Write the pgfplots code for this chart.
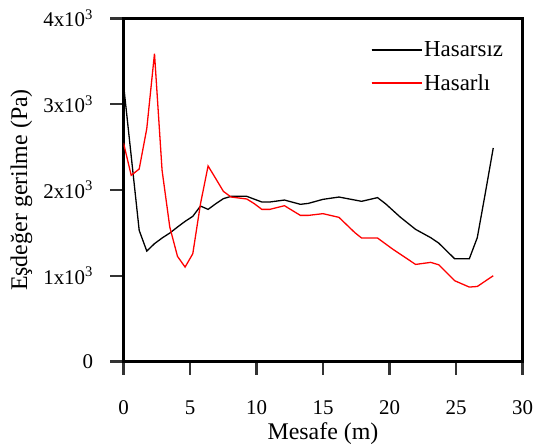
\documentclass[border=0pt]{standalone}
\usepackage{pgfplots}
\pgfplotsset{compat=1.18}
\usepackage{fontspec}
\setmainfont{Liberation Serif}
\begin{document}
\begin{tikzpicture}
\useasboundingbox (0,0) rectangle (536bp,447bp);
\begin{axis}[
  at={(123.5bp,85.5bp)}, anchor=south west,
  scale only axis, width=399bp, height=343bp,
  xmin=0, xmax=30, ymin=0, ymax=4000,
  xtick={0,5,...,30}, ytick={0,1000,2000,3000,4000},
  yticklabels={0,1x10\textsuperscript{3},2x10\textsuperscript{3},3x10\textsuperscript{3},4x10\textsuperscript{3}},
  scaled y ticks=false,
  tick align=outside,
  xtick pos=bottom, ytick pos=left,
  major tick length=13bp,
  axis line style={line width=2.2bp, black},
  major tick style={line width=2.2bp, black!80},
  every axis plot/.append style={line width=1.3bp},
  /pgf/number format/assume math mode=true,
  ticklabel style={font=\fontsize{21}{24}\selectfont},
  xticklabel style={yshift=-23bp},
  yticklabel style={xshift=-14bp},
  title={(a)},
  title style={at={(axis description cs:0.361,1.06)}, anchor=base, font=\fontsize{24}{26}\selectfont},
  xlabel={Mesafe (m)}, ylabel={Eşdeğer gerilme (Pa)},
  every axis x label/.style={at={(axis description cs:0.5,-0.21)}, anchor=center, font=\fontsize{24}{26}\selectfont},
  every axis y label/.style={at={(axis description cs:-0.256,0.5)}, anchor=center, rotate=90, font=\fontsize{24}{26}\selectfont},
  legend style={draw=none, fill=none, at={(0.612,0.944)}, anchor=north west,
    font=\fontsize{23}{25}\selectfont, row sep=12bp},
  legend cell align=left,
  legend image code/.code={\draw[#1] (0bp,0bp) -- (31bp,0bp); \path (0bp,0bp) -- (50bp,0bp);},
]
\addplot[black] coordinates {
(0,3233) (1.18,1529) (1.75,1288) (2.33,1374) (2.9,1440) (3.48,1498) (4.06,1568)
(4.63,1634) (5.21,1693) (5.79,1813) (6.36,1774) (6.94,1840) (7.51,1899) (8.09,1926)
(9.27,1926) (10.4,1860) (11.0,1860) (12.1,1883) (13.3,1833) (13.9,1844) (15.0,1891)
(16.2,1918) (17.9,1868) (19.1,1911) (19.7,1840) (20.8,1685) (21.96,1541) (23.1,1444)
(23.7,1381) (24.9,1198) (26.0,1198) (26.6,1444) (27.2,1960) (27.8,2490)
};
\addlegendentry{Hasarsız}
\addplot[red] coordinates {
(0,2549) (0.58,2171) (1.18,2245) (1.75,2716) (2.33,3591) (2.9,2230) (3.48,1568)
(4.06,1226) (4.63,1101) (5.21,1257) (5.79,1840) (6.36,2280) (6.94,2132) (7.51,1984)
(8.09,1918) (9.27,1895) (9.84,1840) (10.4,1774) (11.0,1774) (12.1,1817) (13.3,1704)
(13.9,1704) (15.0,1724) (16.2,1681) (17.4,1502) (17.9,1440) (19.1,1440) (20.2,1315)
(21.96,1132) (23.1,1156) (23.7,1128) (24.9,942) (26.0,868) (26.6,875) (27.8,1000)
};
\addlegendentry{Hasarlı}
\end{axis}
\end{tikzpicture}
\end{document}
